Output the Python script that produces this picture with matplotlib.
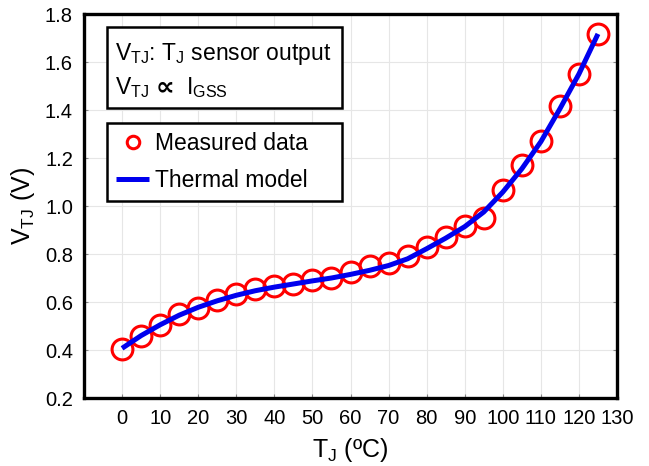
import matplotlib
matplotlib.use("Agg")
import matplotlib.pyplot as plt
from matplotlib.patches import Rectangle

plt.rcParams['font.family'] = ['Liberation Sans', 'DejaVu Sans']
plt.rcParams['mathtext.fontset'] = 'custom'
plt.rcParams['mathtext.rm'] = 'Liberation Sans'
plt.rcParams['mathtext.it'] = 'Liberation Sans'
plt.rcParams['mathtext.bf'] = 'Liberation Sans:bold'

# Measured data
t_meas = [0, 5, 10, 15, 20, 25, 30, 35, 40, 45, 50, 55, 60, 65, 70, 75, 80,
          85, 90, 95, 100, 105, 110, 115, 120, 125]
v_meas = [0.403, 0.458, 0.506, 0.551, 0.576, 0.608, 0.634, 0.654, 0.666, 0.673,
          0.690, 0.700, 0.725, 0.750, 0.763, 0.792, 0.828, 0.872, 0.918, 0.951,
          1.067, 1.170, 1.271, 1.417, 1.552, 1.716]

# Thermal model curve
t_model = [0, 5, 10, 15, 20, 25, 30, 35, 40, 45, 50, 55, 60, 65, 70, 75, 80,
           85, 90, 95, 100, 105, 110, 115, 120, 125]
v_model = [0.407, 0.460, 0.505, 0.545, 0.578, 0.605, 0.628, 0.647, 0.662, 0.675,
           0.688, 0.700, 0.715, 0.732, 0.752, 0.780, 0.822, 0.866, 0.914, 0.975,
           1.058, 1.155, 1.268, 1.405, 1.550, 1.717]

x_ticks = [0, 10, 20, 30, 40, 50, 60, 70, 80, 90, 100, 110, 120, 130]
y_ticks = [0.2, 0.4, 0.6, 0.8, 1.0, 1.2, 1.4, 1.6, 1.8]

fig = plt.figure(figsize=(6.49, 4.66), dpi=100)
ax = fig.add_axes([84/649, 68/466, 533/649, 384/466])

ax.plot(t_model, v_model, color='#0000ee', lw=3.6, zorder=3, label='Thermal model',
        solid_capstyle='butt')
ax.plot(t_meas, v_meas, 'o', mfc='none', mec='#ff0000', mew=2.2, ms=15, zorder=2,
        label='Measured data')

ax.set_xlim(-10, 130)
ax.set_ylim(0.2, 1.8)
ax.set_xticks(x_ticks)
ax.set_yticks(y_ticks)
ax.set_yticklabels([f'{v:.1f}' for v in y_ticks])
ax.grid(True, color='#e6e6e6', lw=0.8)
ax.set_axisbelow(True)
for s in ax.spines.values():
    s.set_linewidth(2.4)
ax.tick_params(direction='in', length=3, width=0.8, color='#888888',
               labelsize=14.5, pad=8, right=True, top=False)

ax.set_xlabel(r'T$_\mathrm{J}$ (ºC)', fontsize=18, labelpad=6)
ax.set_ylabel(r'V$_\mathrm{TJ}$ (V)', fontsize=18, labelpad=6)

# Info text box
ax.add_patch(Rectangle((0.0437, 0.7544), 0.44, 0.211, transform=ax.transAxes,
                       fill=True, facecolor='white', edgecolor='black', lw=1.8, zorder=5))
ax.text(0.058, 0.880, r'V$_\mathrm{TJ}$: T$_\mathrm{J}$ sensor output', transform=ax.transAxes,
        fontsize=16.5, va='baseline', ha='left', zorder=6)
ax.text(0.058, 0.7917, r'V$_\mathrm{TJ}$', transform=ax.transAxes,
        fontsize=16.5, va='baseline', ha='left', zorder=6)
ax.text(0.135, 0.7917, '\u221d', transform=ax.transAxes, family='DejaVu Sans',
        fontweight='bold', fontsize=19, va='baseline', ha='left', zorder=6)
ax.text(0.192, 0.7917, r'I$_\mathrm{GSS}$', transform=ax.transAxes,
        fontsize=16.5, va='baseline', ha='left', zorder=6)

handles, labels = ax.get_legend_handles_labels()
leg = ax.legend(handles[::-1], labels[::-1], loc='upper left',
                bbox_to_anchor=(0.0437, 0.511, 0.44, 0.2045), mode='expand',
                borderaxespad=0, fontsize=16.5, frameon=True, fancybox=False,
                edgecolor='black', framealpha=1, handlelength=1.43, handletextpad=0.25,
                markerscale=0.6, labelspacing=0.6, borderpad=0.4)
leg.get_frame().set_linewidth(1.8)
leg.set_zorder(6)

fig.savefig('out.png', dpi=100)
